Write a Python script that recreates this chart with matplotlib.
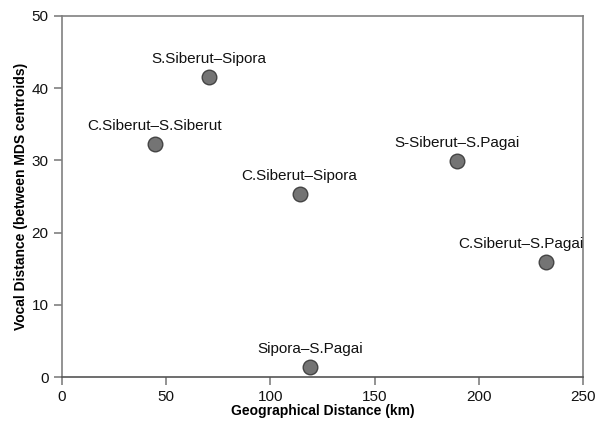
import matplotlib
matplotlib.use("Agg")
import matplotlib.pyplot as plt

plt.rcParams['font.family'] = ['Liberation Sans', 'DejaVu Sans']

# population pairs and their distances
pairs = ["S.Siberut\u2013Sipora", "C.Siberut\u2013S.Siberut", "C.Siberut\u2013Sipora",
         "S-Siberut\u2013S.Pagai", "C.Siberut\u2013S.Pagai", "Sipora\u2013S.Pagai"]
geo_km = [70.5, 44.5, 114, 189.5, 232, 119]
vocal = [41.5, 32.3, 25.3, 29.9, 15.9, 1.4]

fig = plt.figure(figsize=(5.95, 4.28), dpi=100)
ax = fig.add_axes([0.104, 0.119, 0.876, 0.844])

ax.scatter(geo_km, vocal, s=110, color='#747474', edgecolor='#444444', linewidth=1, zorder=3)
for name, x, y in zip(pairs, geo_km, vocal):
    dx = -18 if x > 220 else 0  # last label is pulled left so it stays inside
    ax.annotate(name, (x, y), xytext=(dx, 8), textcoords='offset points',
                ha='center', va='bottom', fontsize=11, color='#111111')

ax.set_xlim(0, 250)
ax.set_ylim(0, 50)
ax.set_xticks([0, 50, 100, 150, 200, 250])
ax.set_yticks([0, 10, 20, 30, 40, 50])
for s in ax.spines.values():
    s.set_color('#808080')
    s.set_linewidth(1.2)
ax.spines['bottom'].set_color('#555555')
ax.tick_params(direction='out', length=6, width=1.2, color='#808080',
               labelsize=11, labelcolor='#111111')

ax.set_xlabel("Geographical Distance (km)", fontsize=10, fontweight='bold', labelpad=0)
ax.set_ylabel("Vocal Distance (between MDS centroids)", fontsize=10, fontweight='bold', labelpad=3)

fig.savefig("out.png", dpi=100)
